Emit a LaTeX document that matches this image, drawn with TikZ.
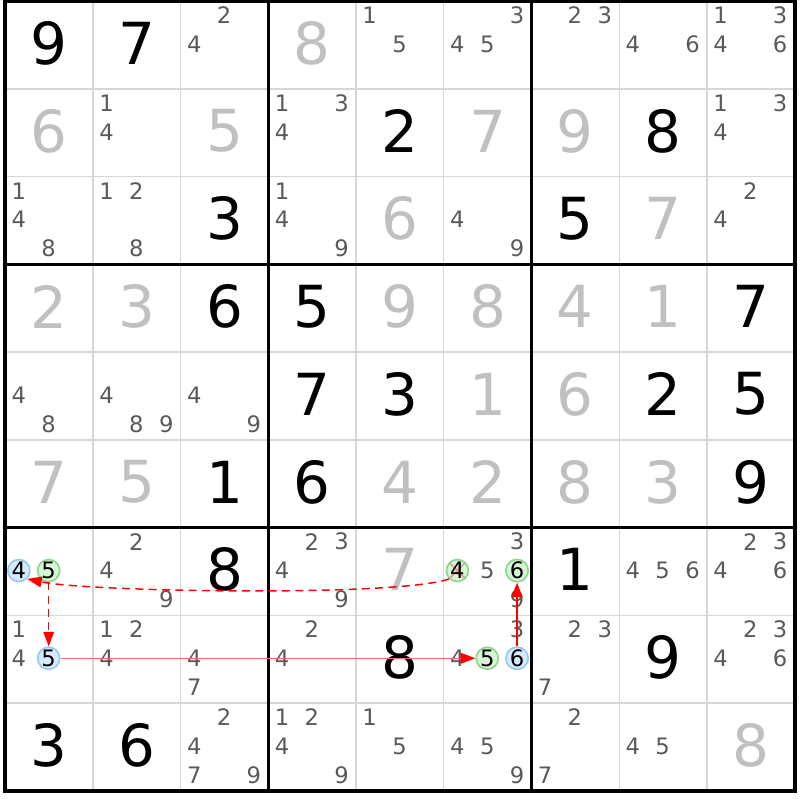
\documentclass[tikz,border=0pt]{standalone}
\usepackage{fontspec}
\setmainfont{DejaVu Sans}
\usetikzlibrary{arrows.meta}

\definecolor{solvedgray}{RGB}{192,192,192}
\definecolor{candgray}{RGB}{90,90,90}
\definecolor{thingray}{RGB}{214,214,214}
\definecolor{greenfill}{RGB}{214,244,214}
\definecolor{greenline}{RGB}{140,214,140}
\definecolor{bluefill}{RGB}{214,234,255}
\definecolor{blueline}{RGB}{150,200,245}
\definecolor{crossred}{RGB}{240,150,150}

\tikzset{
    given/.style={font=\fontsize{43.5}{52}\selectfont, text=black, inner sep=0pt},
    solved/.style={given, text=solvedgray},
    cand/.style={font=\fontsize{17}{20}\selectfont, text=candgray, inner sep=0pt},
    oncell/.style={cand, text=black, circle, minimum size=16.5pt, line width=1.2pt},
    greenmark/.style={oncell, fill=greenfill, draw=greenline},
    bluemark/.style={oncell, fill=bluefill, draw=blueline},
    strongarrow/.style={red, line width=1.1pt, -{Triangle[length=11pt,width=8pt,color=red]}},
    weakarrow/.style={strongarrow, dash pattern=on 6pt off 4pt},
}

\begin{document}
\begin{tikzpicture}[x=65.81pt,y=-65.81pt]
        \useasboundingbox (-0.06,-0.015) rectangle (9.057,9.106);
        \fill[white] (-0.06,-0.015) rectangle (9.057,9.106);

        % draw the grid
        \foreach \i in {1,2,4,5,7,8} {
            \draw[thingray, line width=1pt] (\i,0) -- (\i,9);
            \draw[thingray, line width=1pt] (0,\i) -- (9,\i);
        }
        \foreach \i in {3,6} {
            \draw[line width=2.6pt] (\i,0) -- (\i,9);
            \draw[line width=2.6pt] (0,\i) -- (9,\i);
        }
        \draw[line width=3pt] (0,0) rectangle (9,9);

        % the givens
        \foreach \r/\c/\d in {1/1/9, 1/2/7, 2/5/2, 2/8/8, 3/3/3, 3/7/5, 4/3/6, 4/4/5, 4/9/7,
                5/4/7, 5/5/3, 5/8/2, 5/9/5, 6/3/1, 6/4/6, 6/9/9, 7/3/8, 7/7/1, 8/5/8, 8/8/9,
                9/1/3, 9/2/6}
            \node[given] (g\r\c) at (\c-0.5,\r-0.52) {\d};

        % the solved cells
        \foreach \r/\c/\d in {1/4/8, 2/1/6, 2/3/5, 2/6/7, 2/7/9, 3/5/6, 3/8/7, 4/1/2, 4/2/3,
                4/5/9, 4/6/8, 4/7/4, 4/8/1, 5/6/1, 5/7/6, 6/1/7, 6/2/5, 6/5/4, 6/6/2, 6/7/8,
                6/8/3, 7/5/7, 9/9/8}
            \node[solved] (s\r\c) at (\c-0.5,\r-0.52) {\d};

        % the candidates (a 3x3 spot for each digit in its cell)
        \foreach \r/\c/\ds in {1/3/{2,4}, 1/5/{1,5}, 1/6/{3,4,5}, 1/7/{2,3}, 1/8/{4,6}, 1/9/{1,3,4,6},
                2/2/{1,4}, 2/4/{1,3,4}, 2/9/{1,3,4},
                3/1/{1,4,8}, 3/2/{1,2,8}, 3/4/{1,4,9}, 3/6/{4,9}, 3/9/{2,4},
                5/1/{4,8}, 5/2/{4,8,9}, 5/3/{4,9},
                7/2/{2,4,9}, 7/4/{2,3,4,9}, 7/6/{3,5,9}, 7/8/{4,5,6}, 7/9/{2,3,4,6},
                8/1/{1,4}, 8/2/{1,2,4}, 8/3/{4,7}, 8/4/{2,4}, 8/6/{3,4}, 8/7/{2,3,7}, 8/9/{2,3,4,6},
                9/3/{2,4,7,9}, 9/4/{1,2,4,9}, 9/5/{1,5}, 9/6/{4,5,9}, 9/7/{2,7}, 9/8/{4,5}}
            \foreach \d in \ds {
                \pgfmathsetmacro\cx{\c-1+0.155+0.34*mod(\d-1,3)}
                \pgfmathsetmacro\cy{\r-1+0.16+0.33*int((\d-1)/3)}
                \node[cand] (c\r\c\d) at (\cx,\cy) {\d};
            }

        % the marked candidates of the chain
        \node[bluemark] (A4) at (0.155,6.49) {4};
        \node[greenmark] (A5) at (0.495,6.49) {5};
        \node[bluemark] (B5) at (0.495,7.49) {5};
        \node[greenmark, path picture={
                \draw[crossred, line width=1.2pt] (path picture bounding box.center) +(-0.085,-0.085) -- +(0.085,0.085)
                    (path picture bounding box.center) +(-0.085,0.085) -- +(0.085,-0.085);
            }] (C4) at (5.155,6.49) {4};
        \node[greenmark] (C6) at (5.835,6.49) {6};
        \node[greenmark] (D5) at (5.495,7.49) {5};
        \node[bluemark] (D6) at (5.835,7.49) {6};

        % draw the arrows
        \draw[weakarrow] (C4.south west) .. controls +(-0.56,0.205) and +(0.71,0.15) .. (A4.south east);
        \draw[weakarrow] (A5.south) -- (B5.north);
        \draw[strongarrow, draw=red!60] (B5.east) -- (D5.west);
        \draw[strongarrow] (D6.north) -- (C6.south);

\end{tikzpicture}
\end{document}
